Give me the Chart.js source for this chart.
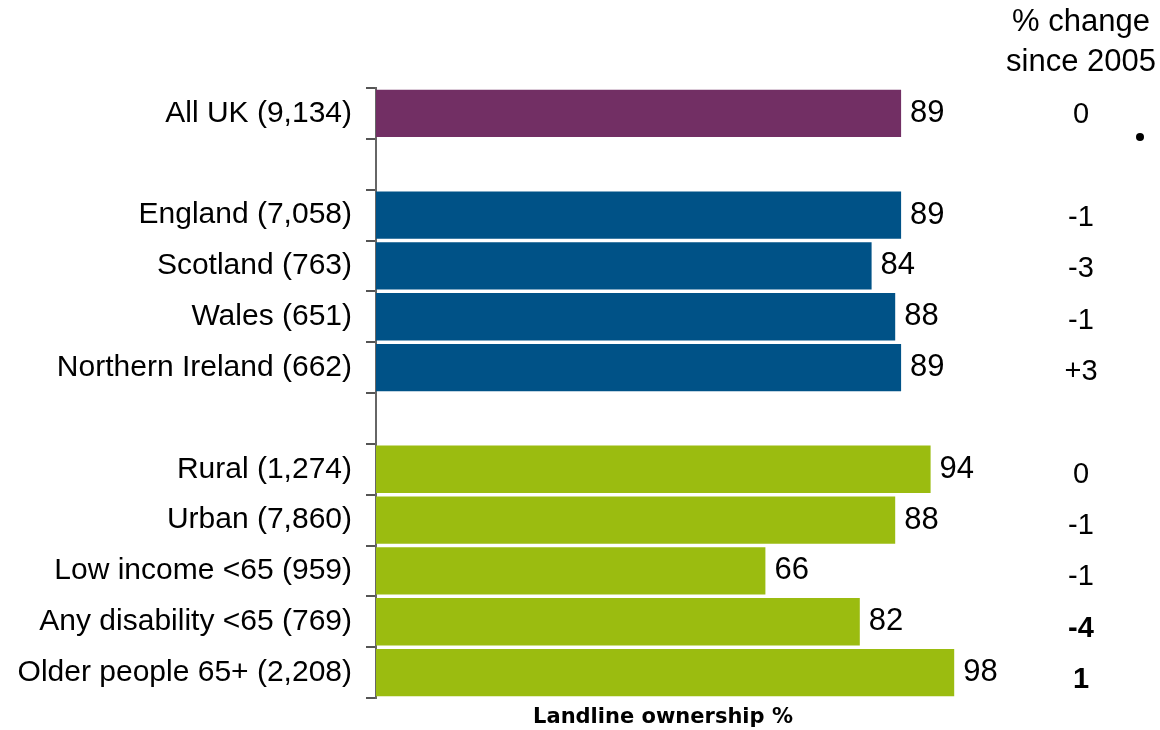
<!DOCTYPE html>
<html>
<head>
<meta charset="utf-8">
<script src="https://cdn.jsdelivr.net/npm/chart.js@4"></script>
<style>
  html, body { margin: 0; padding: 0; background: #fff; }
</style>
</head>
<body>
<canvas id="myChart" width="1160" height="730"></canvas>
<script>
// rows of the chart, blank strings leave a gap between groups
var categories = [
    'All UK (9,134)', '',
    'England (7,058)', 'Scotland (763)', 'Wales (651)', 'Northern Ireland (662)', '',
    'Rural (1,274)', 'Urban (7,860)', 'Low income <65 (959)', 'Any disability <65 (769)', 'Older people 65+ (2,208)'
];
var ownership = [89, null, 89, 84, 88, 89, null, 94, 88, 66, 82, 98];
var change = ['0', '', '-1', '-3', '-1', '+3', '', '0', '-1', '-1', '-4', '1'];
var changeBold = [false, false, false, false, false, false, false, false, false, false, true, true];
var group = ['uk', '', 'nation', 'nation', 'nation', 'nation', '', 'type', 'type', 'type', 'type', 'type'];

var groupColours = { uk: '#722F64', nation: '#005287', type: '#9BBC10', '': '#fff' };
var FONT = '"Liberation Sans", Arial, Helvetica, sans-serif';

var sidePlugin = {
    id: 'sideText',
    afterDatasetsDraw: function (chart) {
        var ctx = chart.ctx;
        var meta = chart.getDatasetMeta(0);
        var area = chart.chartArea;
        ctx.save();
        ctx.fillStyle = '#000';
        ctx.textBaseline = 'middle';

        // value at the end of each bar
        ctx.font = '31px ' + FONT;
        ctx.textAlign = 'left';
        meta.data.forEach(function (bar, i) {
            if (ownership[i] === null) return;
            ctx.fillText(ownership[i], bar.x + 9, bar.y);
        });

        // change column
        ctx.textAlign = 'center';
        ctx.fillText('% change', 1081, 22);
        ctx.fillText('since 2005', 1081, 62);
        meta.data.forEach(function (bar, i) {
            if (!change[i]) return;
            ctx.font = (changeBold[i] ? 'bold ' : '') + '29px ' + FONT;
            ctx.fillText(change[i], 1081, bar.y + 2 + i * 0.5);
        });

        ctx.beginPath();
        ctx.arc(1140, 137, 4, 0, Math.PI * 2);
        ctx.fill();

        // axis title under the bars
        ctx.font = 'bold 21px "DejaVu Sans", sans-serif';
        ctx.fillText('Landline ownership %', 663, area.bottom + 20);
        ctx.restore();
    }
};

var ctx = document.getElementById('myChart').getContext('2d');
new Chart(ctx, {
    type: 'bar',
    data: {
        labels: categories,
        datasets: [{
            data: ownership,
            backgroundColor: group.map(function (g) { return groupColours[g]; }),
            borderWidth: 0,
            barPercentage: 0.93,
            categoryPercentage: 1
        }]
    },
    options: {
        indexAxis: 'y',
        responsive: false,
        animation: false,
        devicePixelRatio: 1,
        layout: { padding: { top: 88, right: 194, left: 0, bottom: 0 } },
        plugins: { legend: { display: false }, tooltip: { enabled: false } },
        scales: {
            x: {
                min: 0,
                max: 100,
                ticks: { display: false },
                grid: { display: false },
                border: { display: false },
                afterFit: function (s) { s.height = 31; }
            },
            y: {
                ticks: {
                    color: '#000',
                    font: { family: FONT, size: 30 },
                    padding: 14
                },
                grid: {
                    offset: true,
                    drawOnChartArea: false,
                    drawTicks: true,
                    tickLength: 10,
                    color: '#555',
                    lineWidth: 2
                },
                border: { display: true, color: '#666', width: 2 },
                afterFit: function (s) { s.width = 376; }
            }
        }
    },
    plugins: [sidePlugin]
});
</script>
</body>
</html>
